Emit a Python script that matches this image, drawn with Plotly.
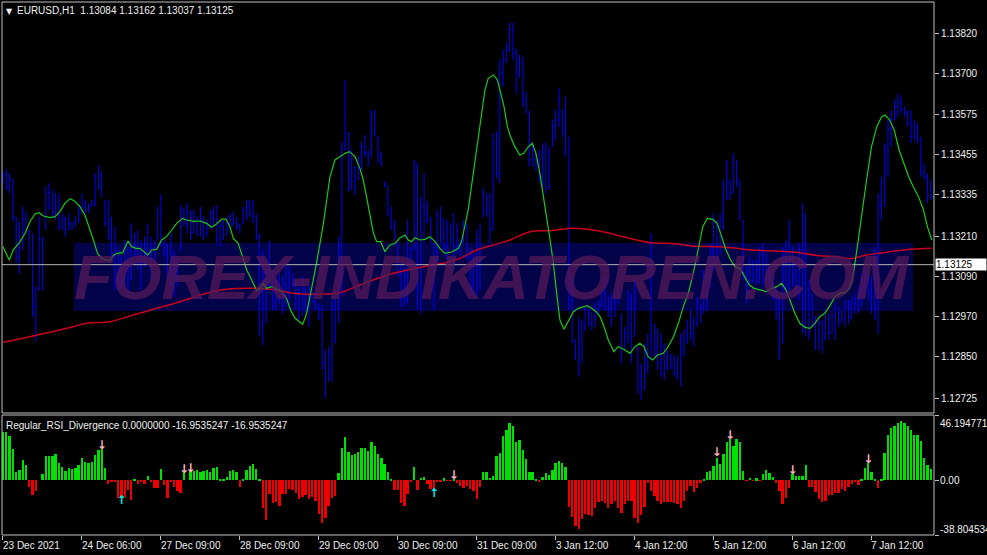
"""
EURUSD H1 chart with moving averages and the Regular_RSI_Divergence histogram
styled after a MetaTrader 4 window (black background, blue bars)
"""

import plotly.graph_objects as go

# Colour palette
COLORS = {
    'bg': '#000000',
    'frame': '#c0c0c0',
    'text': '#f0f0f0',
    'bars': '#0000ff',
    'fast': '#19c819',        # green smoothed line
    'slow': '#c8001e',        # red moving average
    'hist_up': '#00e000',
    'hist_dn': '#ee0000',
    'arrow_dn': '#ffb6c1',
    'arrow_up': '#00e8e8',
    'price_line': '#b4b4b4',
    'wm_box': '#03034a',
    'wm_text': 'rgba(85, 25, 90, 0.75)',
}
FONT = 'Liberation Sans, Arial, sans-serif'

# ---------------------------------------------------------------- price bars
hi = [1.13404, 1.13411, 1.13399, 1.13384, 1.13269, 1.13254, 1.13299, 1.13284, 1.13229, 1.13219,
      1.13059, 1.13269, 1.13209, 1.13359, 1.13369, 1.13349, 1.13339, 1.13339, 1.13279, 1.13269,
      1.13279, 1.13254, 1.13269, 1.13299, 1.13339, 1.13319, 1.13309, 1.13319, 1.13399, 1.13424,
      1.13404, 1.13319, 1.13319, 1.13269, 1.13239, 1.13179, 1.13149, 1.13199, 1.13179, 1.13249,
      1.13219, 1.13229, 1.13199, 1.13209, 1.13249, 1.13209, 1.13199, 1.13299, 1.13334, 1.13199,
      1.13189, 1.13219, 1.13169, 1.13149, 1.13304, 1.13294, 1.13309, 1.13289, 1.13289, 1.13269,
      1.13299, 1.13269, 1.13259, 1.13289, 1.13299, 1.13304, 1.13259, 1.13259, 1.13269, 1.13279,
      1.13284, 1.13269, 1.13249, 1.13299, 1.13319, 1.13319, 1.13319, 1.13279, 1.13219, 1.13169,
      1.13119, 1.13199, 1.13109, 1.13079, 1.13099, 1.13089, 1.13129, 1.13119, 1.13099, 1.13079,
      1.13059, 1.13089, 1.13059, 1.13069,
      1.13044, 1.13019, 1.13009, 1.13004, 1.12869, 1.12879, 1.13019, 1.13024, 1.13209, 1.13494,
      1.13679, 1.13524, 1.13469, 1.13419, 1.13449, 1.13494, 1.13514, 1.13469, 1.13589, 1.13589,
      1.13509, 1.13464, 1.13374, 1.13364, 1.13300, 1.13259, 1.13199, 1.13129, 1.13119, 1.13259,
      1.13179, 1.13439, 1.13429, 1.13329, 1.13399, 1.13314, 1.13269, 1.13189, 1.13289, 1.13299,
      1.13264, 1.13259, 1.13249, 1.13279, 1.13249, 1.13199, 1.13259, 1.13249, 1.13179, 1.13159,
      1.13229, 1.13249, 1.13354, 1.13339, 1.13339, 1.13519, 1.13524, 1.13739, 1.13769, 1.13789,
      1.13851, 1.13851, 1.13774, 1.13754, 1.13749, 1.13644, 1.13584, 1.13489, 1.13459, 1.13469,
      1.13489, 1.13494, 1.13479, 1.13559, 1.13589, 1.13654, 1.13589, 1.13629, 1.13509, 1.13089,
      1.12899, 1.12969, 1.12959, 1.12999, 1.12994, 1.12984, 1.13009, 1.13019, 1.13049, 1.13089,
      1.13029, 1.13039, 1.13029, 1.13049,
      1.12979, 1.12939, 1.13049, 1.13039, 1.13079, 1.12879, 1.12829, 1.12889, 1.12919, 1.13219,
      1.12949, 1.12934, 1.12919, 1.12889, 1.12869, 1.12859, 1.12854, 1.12849, 1.12919, 1.12929,
      1.12959, 1.12989, 1.12969, 1.13029, 1.13009, 1.13109, 1.13099, 1.13189, 1.13279, 1.13259,
      1.13279, 1.13379, 1.13439, 1.13379, 1.13459, 1.13439, 1.13379, 1.13259, 1.13119, 1.13149,
      1.13139, 1.13139, 1.13179, 1.13189, 1.13159, 1.13119, 1.13089, 1.13059, 1.13029, 1.13179,
      1.13199, 1.13259, 1.13179, 1.13129, 1.13189, 1.13309, 1.13279, 1.13079, 1.13039, 1.12969,
      1.12979, 1.12959, 1.12989, 1.12979, 1.12989, 1.13009, 1.12999, 1.12989, 1.13019, 1.13019,
      1.13029, 1.13039, 1.13059, 1.13099, 1.13119, 1.13099, 1.13089, 1.13179, 1.13339, 1.13389,
      1.13489, 1.13559, 1.13589, 1.13619, 1.13639, 1.13629, 1.13599, 1.13589, 1.13589, 1.13559,
      1.13549, 1.13509, 1.13429, 1.13399, 1.13379]

lo = [1.13369, 1.13349, 1.13339, 1.13254, 1.13129, 1.13099, 1.13169, 1.13219, 1.13129, 1.12969,
      1.12894, 1.13049, 1.13049, 1.13229, 1.13289, 1.13269, 1.13259, 1.13229, 1.13229, 1.13209,
      1.13229, 1.13229, 1.13239, 1.13249, 1.13279, 1.13279, 1.13279, 1.13299, 1.13299, 1.13349,
      1.13329, 1.13239, 1.13199, 1.13149, 1.13049, 1.13049, 1.13059, 1.13059, 1.13029, 1.13079,
      1.13149, 1.13109, 1.13049, 1.13119, 1.13149, 1.13079, 1.13139, 1.13199, 1.13179, 1.13149,
      1.13079, 1.13059, 1.13029, 1.13059, 1.13169, 1.13239, 1.13219, 1.13199, 1.13219, 1.13209,
      1.13209, 1.13199, 1.13209, 1.13229, 1.13239, 1.13189, 1.13179, 1.13199, 1.13209, 1.13229,
      1.13239, 1.13229, 1.13219, 1.13249, 1.13259, 1.13269, 1.13249, 1.13199, 1.12909, 1.12884,
      1.12949, 1.13059, 1.12989, 1.12989, 1.13009, 1.12979, 1.12999, 1.13019, 1.13059, 1.12989,
      1.12959, 1.12969, 1.12979, 1.12939,
      1.13009, 1.12989, 1.12959, 1.12809, 1.12724, 1.12774, 1.12774, 1.12889, 1.12949, 1.13029,
      1.13469, 1.13344, 1.13349, 1.13334, 1.13379, 1.13409, 1.13449, 1.13419, 1.13449, 1.13509,
      1.13429, 1.13419, 1.13359, 1.13270, 1.13229, 1.13199, 1.13089, 1.12999, 1.12999, 1.13009,
      1.13119, 1.13169, 1.12989, 1.12979, 1.13189, 1.13249, 1.13189, 1.12989, 1.13129, 1.13189,
      1.13169, 1.13139, 1.13189, 1.13109, 1.13159, 1.13149, 1.13189, 1.13139, 1.13029, 1.13039,
      1.13029, 1.13049, 1.13269, 1.13269, 1.13189, 1.13229, 1.13384, 1.13369, 1.13659, 1.13729,
      1.13764, 1.13739, 1.13639, 1.13689, 1.13599, 1.13579, 1.13419, 1.13419, 1.13404, 1.13374,
      1.13344, 1.13339, 1.13349, 1.13479, 1.13499, 1.13539, 1.13509, 1.13449, 1.12989, 1.12889,
      1.12839, 1.12789, 1.12829, 1.12929, 1.12939, 1.12929, 1.12939, 1.12974, 1.12999, 1.12989,
      1.12969, 1.12939, 1.12969, 1.13009,
      1.12829, 1.12869, 1.12889, 1.12829, 1.12909, 1.12739, 1.12719, 1.12749, 1.12799, 1.12839,
      1.12849, 1.12809, 1.12789, 1.12779, 1.12809, 1.12809, 1.12789, 1.12779, 1.12759, 1.12849,
      1.12889, 1.12899, 1.12879, 1.12939, 1.12949, 1.12979, 1.12989, 1.13059, 1.13109, 1.13129,
      1.13159, 1.13229, 1.13319, 1.13319, 1.13339, 1.13359, 1.13259, 1.13079, 1.13009, 1.13069,
      1.13069, 1.13069, 1.13069, 1.13059, 1.13079, 1.13059, 1.13019, 1.12959, 1.12839, 1.12889,
      1.13029, 1.13039, 1.13059, 1.13039, 1.13019, 1.12919, 1.12909, 1.12899, 1.12939, 1.12869,
      1.12869, 1.12859, 1.12899, 1.12899, 1.12919, 1.12899, 1.12939, 1.12949, 1.12939, 1.12949,
      1.12959, 1.12979, 1.12979, 1.12999, 1.13039, 1.13019, 1.12979, 1.12959, 1.12919, 1.13259,
      1.13299, 1.13389, 1.13479, 1.13559, 1.13569, 1.13579, 1.13569, 1.13539, 1.13489, 1.13499,
      1.13489, 1.13389, 1.13379, 1.13309, 1.13319]

op = [1.13380, 1.13395, 1.13360, 1.13380, 1.13265, 1.13150, 1.13230, 1.13260, 1.13225, 1.13140,
      1.13000, 1.13050, 1.13200, 1.13240, 1.13340, 1.13300, 1.13280, 1.13300, 1.13240, 1.13260,
      1.13230, 1.13250, 1.13240, 1.13260, 1.13290, 1.13300, 1.13290, 1.13300, 1.13310, 1.13390,
      1.13360, 1.13319, 1.13250, 1.13210, 1.13160, 1.13080, 1.13140, 1.13080, 1.13170, 1.13080,
      1.13210, 1.13160, 1.13130, 1.13150, 1.13190, 1.13160, 1.13140, 1.13199, 1.13280, 1.13190,
      1.13160, 1.13100, 1.13070, 1.13110, 1.13170, 1.13290, 1.13250, 1.13280, 1.13220, 1.13260,
      1.13230, 1.13269, 1.13220, 1.13240, 1.13280, 1.13260, 1.13200, 1.13240, 1.13220, 1.13250,
      1.13260, 1.13250, 1.13240, 1.13249, 1.13290, 1.13300, 1.13280, 1.13270, 1.13210, 1.12950,
      1.13100, 1.13060, 1.13100, 1.13020, 1.13050, 1.13030, 1.13060, 1.13100, 1.13060, 1.13079,
      1.13010, 1.12990, 1.13040, 1.13000,
      1.13030, 1.13015, 1.12995, 1.12970, 1.12830, 1.12790, 1.12860, 1.13000, 1.12960, 1.13180,
      1.13470, 1.13520, 1.13380, 1.13419, 1.13380, 1.13430, 1.13480, 1.13460, 1.13450, 1.13570,
      1.13509, 1.13450, 1.13370, 1.13362, 1.13260, 1.13240, 1.13199, 1.13100, 1.13020, 1.13090,
      1.13170, 1.13170, 1.13400, 1.13050, 1.13300, 1.13280, 1.13260, 1.13189, 1.13140, 1.13270,
      1.13210, 1.13180, 1.13230, 1.13200, 1.13160, 1.13199, 1.13190, 1.13240, 1.13150, 1.13060,
      1.13120, 1.13200, 1.13270, 1.13339, 1.13290, 1.13230, 1.13490, 1.13400, 1.13700, 1.13740,
      1.13770, 1.13830, 1.13760, 1.13690, 1.13730, 1.13620, 1.13584, 1.13440, 1.13459, 1.13420,
      1.13400, 1.13460, 1.13360, 1.13480, 1.13540, 1.13560, 1.13589, 1.13530, 1.13470, 1.13020,
      1.12899, 1.12860, 1.12940, 1.12930, 1.12980, 1.12950, 1.12970, 1.12990, 1.13000, 1.13040,
      1.13000, 1.12990, 1.12970, 1.13010,
      1.12960, 1.12870, 1.12920, 1.13020, 1.12910, 1.12879, 1.12760, 1.12790, 1.12860, 1.12840,
      1.12900, 1.12880, 1.12830, 1.12880, 1.12810, 1.12850, 1.12820, 1.12800, 1.12830, 1.12900,
      1.12890, 1.12940, 1.12920, 1.12950, 1.13000, 1.12980, 1.13090, 1.13060, 1.13170, 1.13250,
      1.13160, 1.13260, 1.13360, 1.13379, 1.13340, 1.13430, 1.13379, 1.13259, 1.13100, 1.13070,
      1.13120, 1.13090, 1.13110, 1.13160, 1.13080, 1.13119, 1.13070, 1.13040, 1.12980, 1.12890,
      1.13150, 1.13060, 1.13179, 1.13090, 1.13060, 1.13170, 1.12950, 1.13050, 1.12940, 1.12969,
      1.12900, 1.12950, 1.12900, 1.12960, 1.12920, 1.12970, 1.12940, 1.12980, 1.12960, 1.13000,
      1.12970, 1.13010, 1.13020, 1.13040, 1.13080, 1.13099, 1.13040, 1.13000, 1.13150, 1.13300,
      1.13370, 1.13470, 1.13530, 1.13560, 1.13600, 1.13610, 1.13590, 1.13580, 1.13550, 1.13510,
      1.13540, 1.13500, 1.13400, 1.13390, 1.13330]

cl = [1.13395, 1.13360, 1.13380, 1.13270, 1.13150, 1.13230, 1.13260, 1.13230, 1.13140, 1.13000,
      1.13050, 1.13200, 1.13190, 1.13340, 1.13300, 1.13280, 1.13300, 1.13240, 1.13260, 1.13230,
      1.13250, 1.13240, 1.13260, 1.13290, 1.13300, 1.13290, 1.13300, 1.13310, 1.13390, 1.13360,
      1.13330, 1.13250, 1.13210, 1.13160, 1.13080, 1.13140, 1.13080, 1.13180, 1.13060, 1.13220,
      1.13160, 1.13130, 1.13150, 1.13190, 1.13160, 1.13140, 1.13190, 1.13280, 1.13190, 1.13160,
      1.13100, 1.13070, 1.13110, 1.13140, 1.13290, 1.13250, 1.13280, 1.13220, 1.13270, 1.13230,
      1.13280, 1.13220, 1.13240, 1.13280, 1.13260, 1.13200, 1.13240, 1.13220, 1.13250, 1.13260,
      1.13250, 1.13240, 1.13245, 1.13290, 1.13300, 1.13280, 1.13270, 1.13210, 1.12950, 1.13100,
      1.13020, 1.13150, 1.13020, 1.13050, 1.13030, 1.13060, 1.13100, 1.13060, 1.13080, 1.13010,
      1.12990, 1.13040, 1.13000, 1.13050,
      1.13015, 1.12995, 1.12970, 1.12830, 1.12790, 1.12860, 1.13000, 1.12930, 1.13180, 1.13470,
      1.13560, 1.13380, 1.13440, 1.13360, 1.13430, 1.13480, 1.13460, 1.13440, 1.13570, 1.13520,
      1.13450, 1.13430, 1.13362, 1.13320, 1.13240, 1.13210, 1.13100, 1.13020, 1.13090, 1.13230,
      1.13130, 1.13400, 1.13050, 1.13300, 1.13280, 1.13260, 1.13200, 1.13020, 1.13270, 1.13210,
      1.13180, 1.13230, 1.13200, 1.13130, 1.13230, 1.13170, 1.13240, 1.13150, 1.13060, 1.13120,
      1.13200, 1.13230, 1.13340, 1.13290, 1.13230, 1.13490, 1.13400, 1.13700, 1.13740, 1.13770,
      1.13830, 1.13760, 1.13660, 1.13730, 1.13620, 1.13600, 1.13440, 1.13470, 1.13420, 1.13400,
      1.13460, 1.13360, 1.13460, 1.13540, 1.13560, 1.13620, 1.13530, 1.13470, 1.13020, 1.12930,
      1.12860, 1.12940, 1.12880, 1.12980, 1.12950, 1.12970, 1.12990, 1.13000, 1.13040, 1.13000,
      1.12990, 1.12960, 1.13010, 1.13030,
      1.12850, 1.12920, 1.13020, 1.12850, 1.13050, 1.12760, 1.12790, 1.12860, 1.12820, 1.12900,
      1.12880, 1.12830, 1.12880, 1.12800, 1.12850, 1.12820, 1.12800, 1.12830, 1.12900, 1.12870,
      1.12940, 1.12920, 1.12950, 1.13010, 1.12980, 1.13090, 1.13020, 1.13170, 1.13250, 1.13150,
      1.13260, 1.13360, 1.13400, 1.13340, 1.13430, 1.13380, 1.13270, 1.13100, 1.13060, 1.13120,
      1.13090, 1.13110, 1.13160, 1.13080, 1.13130, 1.13070, 1.13040, 1.12980, 1.12870, 1.13150,
      1.13060, 1.13210, 1.13090, 1.13060, 1.13170, 1.12950, 1.13050, 1.12920, 1.13000, 1.12900,
      1.12950, 1.12880, 1.12960, 1.12920, 1.12970, 1.12920, 1.12980, 1.12960, 1.13000, 1.12970,
      1.13010, 1.13020, 1.13040, 1.13080, 1.13100, 1.13040, 1.13000, 1.13150, 1.13300, 1.13370,
      1.13470, 1.13530, 1.13560, 1.13600, 1.13610, 1.13590, 1.13580, 1.13550, 1.13510, 1.13540,
      1.13500, 1.13400, 1.13390, 1.13330, 1.13350]

# ---------------------------------------------------------------- indicator lines (bar index, price)
green_x = [0, 1.9, 3.1, 5.2, 6.7, 8.2, 9.7, 11, 12.3, 14.3, 15.8, 17.3, 18.8, 20.4, 21.6, 23.4,
           24.9, 26.2, 27.5, 28.7, 30, 31.3, 32.5, 33.7, 34.8, 36.4, 38, 39.1, 40.4, 41.6, 42.9,
           44, 45.2, 46.7, 48.2, 49.7, 51.3, 52.8, 54.6, 55.8, 57.9, 59.9, 61.9, 63.4, 64.9, 66.5,
           67.8, 69, 70, 71.5, 72.8, 74.1, 75.6, 77.1, 78.1, 79.1, 80.1, 81.7, 83.2, 84.7, 86.2,
           87.4, 88.8, 90.1, 91.1, 92.3, 93.3,
           95.3, 97.4, 99.4, 100.9, 102.4, 104, 105.3, 107, 108.5, 109.5, 110.5, 111.6, 112.6,
           113.6, 114.8, 116.1, 117.6, 119.2, 120.5, 122.2, 123.2, 124.2, 125.2, 126.7, 128.3,
           129.8, 131.3, 132.8, 134.3, 136.4, 138.4, 139.4, 140.4, 141.4, 142.4, 143.5, 144.5,
           145.5, 146.5, 147.5, 149.1, 150.3, 151.3, 152.3, 153.3, 154.3, 155.6, 157.1, 158.3,
           159.7, 160.9, 162, 163.2, 164.2, 165.2, 166.3, 167.3, 168.3, 169.3, 170.5, 171.8,
           173.4, 174.9, 176.4, 177.6, 178.9, 180.3, 181.5, 182.7, 184, 185.7, 187,
           189.1, 190.6, 192.1, 193.6, 194.8, 196.1, 197.5, 198.9, 200.7, 202.2, 203.8, 205.3,
           206.8, 208.3, 209.8, 211.3, 212.7, 214.1, 215.7, 217.1, 218.4, 219.8, 221.2, 222.5,
           224, 225.5, 226.9, 228.3, 230.1, 232.1, 233.6, 235.2, 236.7, 238, 239.2, 240.7, 242.2,
           243.8, 245.3, 246.8, 248.3, 249.8, 251.2, 252.9, 254.4, 255.9, 257.3, 258.5, 259.7,
           261, 262.5, 264, 265.6, 267.1, 268.1, 269.4, 270.9, 272.4, 273.9, 275.3, 276.7, 278.3,
           279.8, 281, 282.3]
green_y = [1.13179, 1.13139, 1.13169, 1.13194, 1.13219, 1.13254, 1.13277, 1.13281, 1.13271,
           1.13266, 1.13269, 1.13284, 1.13309, 1.13323, 1.13317, 1.13299, 1.13274, 1.13239,
           1.13199, 1.13159, 1.13144, 1.13139, 1.13137, 1.13154, 1.13159, 1.13161, 1.13196,
           1.13179, 1.13174, 1.13174, 1.13164, 1.13154, 1.13169, 1.13171, 1.13199, 1.13209,
           1.13229, 1.13249, 1.13264, 1.13259, 1.13255, 1.13256, 1.13249, 1.13237, 1.13247,
           1.13262, 1.13261, 1.13239, 1.13204, 1.13189, 1.13149, 1.13109, 1.13079, 1.13047,
           1.13054, 1.13069, 1.13054, 1.13059, 1.13052, 1.13044, 1.13024, 1.12989, 1.12964,
           1.12954, 1.12946, 1.12979, 1.13029,
           1.13129, 1.13249, 1.13389, 1.13439, 1.13449, 1.13459, 1.13464, 1.13449, 1.13414,
           1.13379, 1.13329, 1.13269, 1.13219, 1.13194, 1.13194, 1.13164, 1.13184, 1.13189,
           1.13204, 1.13214, 1.13199, 1.13194, 1.13206, 1.13199, 1.13201, 1.13209, 1.13194,
           1.13174, 1.13159, 1.13163, 1.13174, 1.13194, 1.13239, 1.13289, 1.13359, 1.13439,
           1.13519, 1.13589, 1.13649, 1.13684, 1.13694, 1.13679, 1.13639, 1.13599, 1.13539,
           1.13509, 1.13479, 1.13454, 1.13459, 1.13479, 1.13489, 1.13459, 1.13399, 1.13339,
           1.13269, 1.13199, 1.13129, 1.13039, 1.12959, 1.12931, 1.12954, 1.12984, 1.12994,
           1.12999, 1.13002, 1.12994, 1.12984, 1.12969, 1.12939, 1.12899, 1.12864, 1.12879,
           1.12869, 1.12859, 1.12879, 1.12889, 1.12879, 1.12849, 1.12839, 1.12854, 1.12859,
           1.12879, 1.12909, 1.12949, 1.12999, 1.13039, 1.13099, 1.13169, 1.13239, 1.13264,
           1.13261, 1.13249, 1.13209, 1.13169, 1.13139, 1.13119, 1.13114, 1.13089, 1.13064,
           1.13054, 1.13049, 1.13044, 1.13054, 1.13059, 1.13069, 1.13049, 1.13019, 1.12979,
           1.12949, 1.12937, 1.12934, 1.12949, 1.12969, 1.12979, 1.12999, 1.13029, 1.13039,
           1.13041, 1.13054, 1.13099, 1.13179, 1.13279, 1.13379, 1.13479, 1.13539, 1.13569,
           1.13574, 1.13561, 1.13529, 1.13469, 1.13429, 1.13389, 1.13359, 1.13329, 1.13289,
           1.13239, 1.13199]

red_x = [0, 9.2, 19.4, 25.4, 32.5, 39.6, 46.7, 53.8, 61.9, 68, 76.1, 83.2, 88.2, 93.3, 102.4,
         108.5, 118.6, 128.8, 133.8, 138.9, 144, 149, 154.1, 160.2, 166.3, 173.4, 179.4, 184.5,
         187.5, 196.7, 202.7, 209.8, 217.9, 223, 228.1, 233.1, 240.2, 248.3, 253.4, 257.4,
         262.5, 267.6, 273.6, 278.7, 282.3]
red_y = [1.12892, 1.12911, 1.12934, 1.12949, 1.12954, 1.12974, 1.12994, 1.13014, 1.13039,
         1.13051, 1.13054, 1.13049, 1.13039, 1.13036, 1.13041, 1.13064, 1.13099, 1.13121,
         1.13129, 1.13144, 1.13169, 1.13184, 1.13199, 1.13224, 1.13227, 1.13234, 1.13229,
         1.13219, 1.13211, 1.13191, 1.13189, 1.13181, 1.13179, 1.13174, 1.13169, 1.13167,
         1.13163, 1.13152, 1.13149, 1.13143, 1.13154, 1.13161, 1.13169, 1.13173, 1.13174]

# ---------------------------------------------------------------- Regular_RSI_Divergence histogram
rsi = [34.4, 33.9, 31, 22, 6, 7, 14, 11, -4.5, -10.4,
       -7.6, 0, 4.3, 16.8, 17, 17.3, 18.5, 11.9, 9.5, 6.6,
       8.3, 7.8, 8.3, 10.7, 16, 13, 11.9, 13, 18, 21.3,
       22, 8.3, -2.8, -1.2, -1.2, -12.3, -12.3, -11.6, -7, -14,
       0.2, -3, -1.2, -2.8, 3, -1.2, -5.7, -5.4, 7.6, -3.5,
       -12.6, -1.2, -4.7, -7.8, -8.8, 5.5, 0, 7, 6.6, 7,
       6, 6.6, 7, 5.5, 8.8, 9.7, 1.2, 1.2, 2.6, 6.4,
       7, 5.5, -4.5, 1.2, 7, 10, 11.4, 7.8, 0.7, -20,
       -28, -9.5, -15.9, -15.4, -18.2, -10, -10, -5.9, -6.9, -8.8,
       -13.5, -11.6, -10.7, -13, -11.6, -14.7, -24, -30.6, -26.5, -18,
       -12.3, -11.1, 5, 22.5, 30.3, 19.7, 18, 18.5, 19.7, 22.5,
       22.8, 20.9, 27.3, 24.4, 18.5, 16, 11.4, 5.5, 0.7, -6.9,
       -7, -16.4, -18.2, -10, -1.2, 9.7, -6.9, 1.9, 2.4, -2.8,
       -5.9, -7.8, -0.7, -1.2, 1.4, -0.5, -0.5, 0.2, -2.1, -4,
       -5.2, -4, -6.4, -7.6, -13, -4.7, 5.5, 5.5, 1.9, 3,
       17.3, 19, 31, 35.8, 40.3, 38.6, 26.8, 28.7, 21.6, 15,
       6, 6, 0.7, -1.2, 2.4, 5, 4, 7.3, 12, 13.7,
       12, 9.2, -19, -25.8, -32.5, -34.8, -27.7, -24, -24.9, -25.4,
       -20, -15.4, -14.7, -15.9, -19.4, -17, -14.7, -19.7, -23.5, -17,
       -14.7, -14.7, -26.5, -30, -24.9, -18.7, -1.7, -7.6, -11.1, -15,
       -17, -15.4, -15.4, -15.4, -15.9, -16.6, -19.4, -14.7, -7.6, -4,
       -8.3, -5.4, -1.7, 0.7, 5.5, 6.6, 10.2, 16, 11.4, 18.5,
       27.3, 29, 24.4, 29, 27.3, 6.6, -0.5, 1.9, -0.2, 1.4,
       -0.5, 4.3, 7, 5, 2.4, -1.7, -7.6, -17, -12.3, -5.2,
       4.3, 3, 3, 3, 10.7, -4.7, -4.5, -8.3, -13, -15.2,
       -14.7, -10.7, -10.7, -9.2, -8.8, -6.4, -7.6, -4.5, -2.8, -1.2,
       -3.5, 1.2, 8.3, 11.9, 6, 0.7, -5.7, 0.7, 19, 32.2,
       36.7, 38.6, 40.5, 41.7, 40.5, 38.6, 35.8, 32.2, 32, 28,
       16, 10.7, 7.8]

# divergence arrows (bar index, histogram value)
sell_x = [30, 55, 57, 137, 217, 221, 240, 263]
sell_y = [24.1, 7.3, 7.8, 3.0, 19.0, 31.5, 6.6, 14.2]
buy_x = [36, 131]
buy_y = [-14.7, -9.9]

# ---------------------------------------------------------------- axes
price_ticks = [1.13820, 1.13700, 1.13575, 1.13455, 1.13335, 1.13210, 1.13090, 1.12970, 1.12850, 1.12725]
price_labels = ['1.13820', '1.13700', '1.13575', '1.13455', '1.13335', '1.13210', '1.13090', '1.12970',
                '1.12850', '1.12725']
price_range = [1.12680, 1.13913]
last_price = 1.13125

sub_max = 46.194771
sub_min = -38.804534

time_idx = [0, 24, 48, 72, 96, 120, 144, 168, 192, 216, 240, 264]
time_labels = ['23 Dec 2021', '24 Dec 06:00', '27 Dec 09:00', '28 Dec 09:00', '29 Dec 09:00',
               '30 Dec 09:00', '31 Dec 09:00', '3 Jan 12:00', '4 Jan 12:00', '5 Jan 12:00',
               '6 Jan 12:00', '7 Jan 12:00']

bars = list(range(len(hi)))
x_range = [-0.3, 283.0]

MAIN_DOM = [0.2289, 1.0]
SUB_DOM = [0.0, 0.2251]

fig = go.Figure()

# main window
fig.add_trace(go.Ohlc(
    x=bars, open=op, high=hi, low=lo, close=cl,
    xaxis='x', yaxis='y',
    increasing=dict(line=dict(color=COLORS['bars'], width=1)),
    decreasing=dict(line=dict(color=COLORS['bars'], width=1)),
    tickwidth=0.3,
    hoverinfo='skip'
))
fig.add_trace(go.Scatter(
    x=red_x, y=red_y, mode='lines', xaxis='x', yaxis='y',
    line=dict(color=COLORS['slow'], width=1.5, shape='spline'),
    hoverinfo='skip'
))
fig.add_trace(go.Scatter(
    x=green_x, y=green_y, mode='lines', xaxis='x', yaxis='y',
    line=dict(color=COLORS['fast'], width=1.2),
    hoverinfo='skip'
))

# indicator window
fig.add_trace(go.Bar(
    x=bars, y=rsi, xaxis='x2', yaxis='y2',
    width=0.72,
    marker=dict(color=[COLORS['hist_up'] if v >= 0 else COLORS['hist_dn'] for v in rsi],
                line=dict(width=0)),
    hoverinfo='skip'
))
fig.add_trace(go.Scatter(
    x=sell_x, y=sell_y, xaxis='x2', yaxis='y2', mode='text',
    text=['↓'] * len(sell_x),
    textfont=dict(family='DejaVu Sans', size=12, color=COLORS['arrow_dn'], weight='bold'),
    hoverinfo='skip'
))
fig.add_trace(go.Scatter(
    x=buy_x, y=buy_y, xaxis='x2', yaxis='y2', mode='text',
    text=['↑'] * len(buy_x),
    textfont=dict(family='DejaVu Sans', size=12, color=COLORS['arrow_up'], weight='bold'),
    hoverinfo='skip'
))

tick_font = dict(family=FONT, size=10, color=COLORS['text'])

fig.update_layout(
    width=987, height=555,
    margin=dict(l=2, r=53, t=2, b=20),
    paper_bgcolor=COLORS['bg'],
    plot_bgcolor=COLORS['bg'],
    showlegend=False,
    bargap=0,
    xaxis=dict(domain=[0, 1], range=x_range, anchor='y', showticklabels=False, ticks='',
               showgrid=False, zeroline=False, rangeslider=dict(visible=False), fixedrange=True),
    yaxis=dict(domain=MAIN_DOM, range=price_range, side='right', anchor='x',
               tickvals=price_ticks, ticktext=price_labels, tickfont=tick_font,
               ticks='outside', ticklen=4, tickcolor=COLORS['frame'],
               showgrid=False, zeroline=False, fixedrange=True),
    xaxis2=dict(domain=[0, 1], range=x_range, anchor='y2', tickvals=time_idx,
                showticklabels=False, ticks='outside', ticklen=4, tickcolor=COLORS['frame'],
                showgrid=False, zeroline=False, fixedrange=True),
    yaxis2=dict(domain=SUB_DOM, range=[sub_min, sub_max], side='right', anchor='x2',
                tickvals=[sub_max, 0, sub_min], showticklabels=False,
                ticks='outside', ticklen=4, tickcolor=COLORS['frame'],
                showgrid=False, zeroline=False, fixedrange=True),
)

shapes = [
    # watermark panel behind the bars
    dict(type='rect', xref='x domain', yref='y domain', x0=0.0773, x1=0.9775, y0=0.2482, y1=0.4136,
         fillcolor=COLORS['wm_box'], line=dict(width=0), layer='below'),
    # current price line
    dict(type='line', xref='x domain', yref='y', x0=0, x1=1, y0=last_price, y1=last_price,
         line=dict(color=COLORS['price_line'], width=1)),
    # window frames
    dict(type='rect', xref='paper', yref='paper', x0=0, x1=1, y0=MAIN_DOM[0], y1=MAIN_DOM[1],
         line=dict(color=COLORS['frame'], width=1)),
    dict(type='rect', xref='paper', yref='paper', x0=0, x1=1, y0=SUB_DOM[0], y1=SUB_DOM[1],
         line=dict(color=COLORS['frame'], width=1)),
]

annotations = [
    dict(text='FOREX-INDIKATOREN.COM', xref='x domain', yref='y domain', x=0.526, y=0.33,
         showarrow=False, xanchor='center', yanchor='middle',
         font=dict(family=FONT, size=63, color=COLORS['wm_text'], weight='bold', style='italic')),
    dict(text='▼', xref='paper', yref='paper', x=0, y=1, xanchor='left', yanchor='top',
         xshift=2, yshift=-3, showarrow=False,
         font=dict(family='DejaVu Sans', size=8, color=COLORS['text'])),
    dict(text='EURUSD,H1\u00a0\u00a01.13084 1.13162 1.13037 1.13125', xref='paper', yref='paper',
         x=0, y=1, xanchor='left', yanchor='top', xshift=13, yshift=-1, showarrow=False,
         font=tick_font),
    dict(text='Regular_RSI_Divergence 0.0000000 -16.9535247 -16.9535247', xref='paper', yref='paper',
         x=0, y=SUB_DOM[1], xanchor='left', yanchor='top', xshift=2, yshift=-3, showarrow=False,
         font=tick_font),
    # current price tag
    dict(text=f'{last_price:.5f}', xref='paper', yref='y', x=1, y=last_price, xanchor='left',
         yanchor='middle', xshift=1, showarrow=False, bgcolor='#ffffff', borderpad=0,
         width=50, height=11, align='left',
         font=dict(family=FONT, size=10, color='#000000')),
    # indicator scale labels
    dict(text='46.194771', xref='paper', yref='y2', x=1, y=sub_max, xanchor='left', yanchor='middle',
         xshift=4, yshift=-8, showarrow=False, font=tick_font),
    dict(text='0.00', xref='paper', yref='y2', x=1, y=0, xanchor='left', yanchor='middle',
         xshift=4, showarrow=False, font=tick_font),
    dict(text='-38.804534', xref='paper', yref='y2', x=1, y=sub_min, xanchor='left', yanchor='middle',
         xshift=4, yshift=6, showarrow=False, font=tick_font),
]

for idx, label in zip(time_idx, time_labels):
    annotations.append(dict(
        text=label, xref='x2', yref='paper', x=idx, y=0, xanchor='left', yanchor='top',
        xshift=-2, yshift=-3, showarrow=False, font=tick_font
    ))

fig.update_layout(shapes=shapes, annotations=annotations)

# the page body keeps the browser's default 8px margin unless it is cleared
fig.write_html('out.html', config={'displayModeBar': False},
               post_script="document.body.style.margin='0';")
